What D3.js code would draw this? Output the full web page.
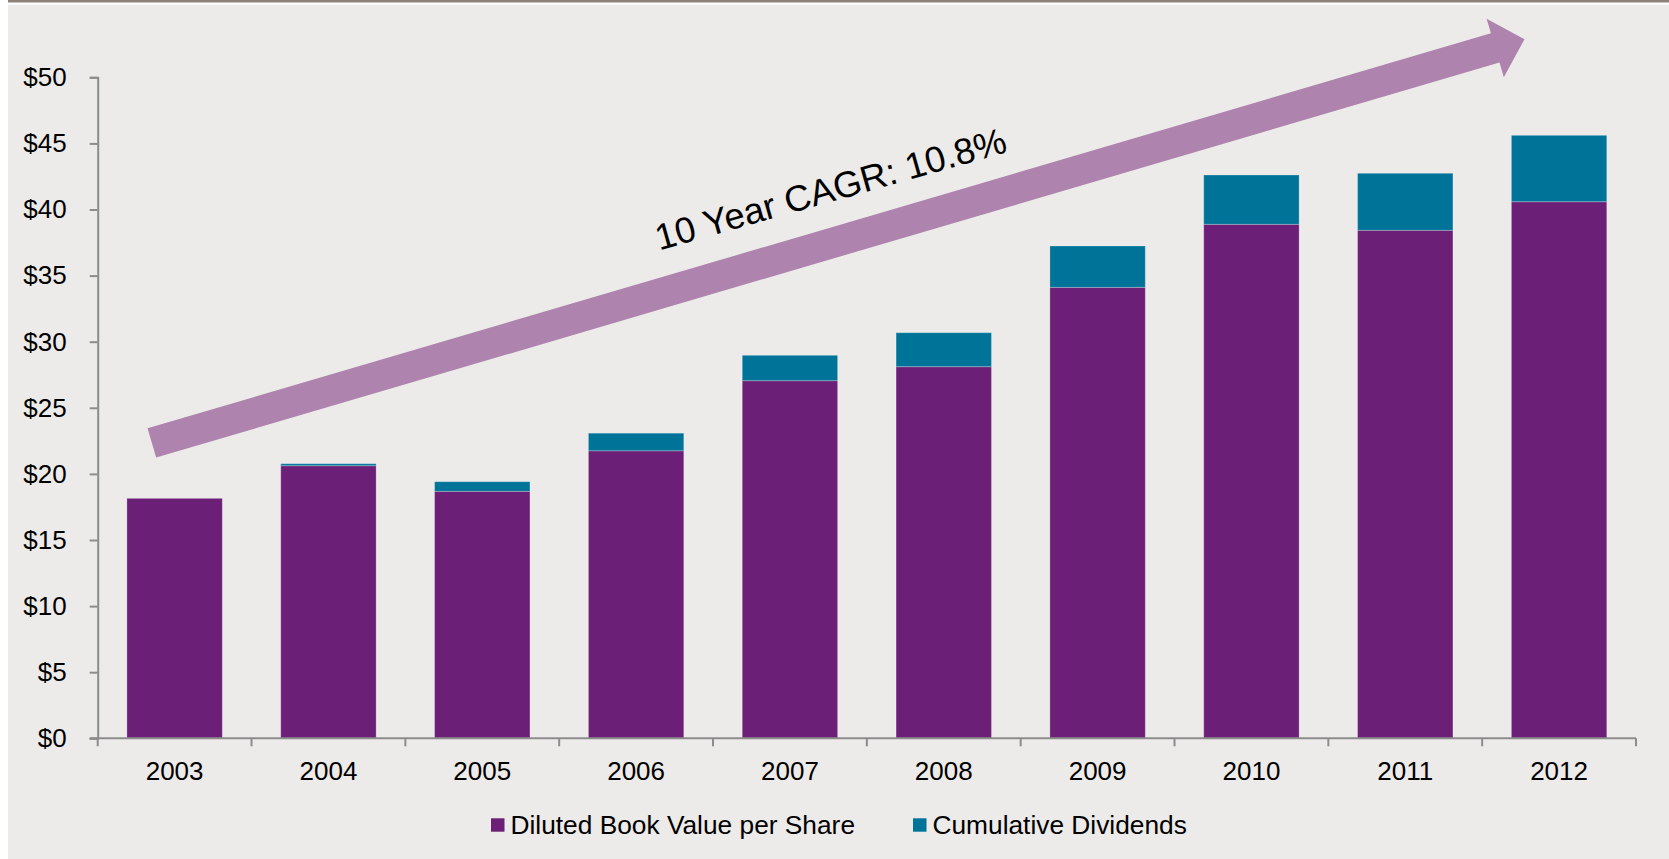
<!DOCTYPE html>
<html>
<head>
<meta charset="utf-8">
<script src="https://cdn.jsdelivr.net/npm/d3@7"></script>
<style>
  html, body { margin: 0; padding: 0; background: #ffffff; }
  svg { display: block; }
  text { font-family: "Liberation Sans", Arial, sans-serif; fill: #000; }
</style>
</head>
<body>
<svg id="chart" width="1669" height="859"></svg>
<script>
// ---- data ----
const years = ["2003","2004","2005","2006","2007","2008","2009","2010","2011","2012"];
const bookValue = [18.15, 20.62, 18.68, 21.75, 27.05, 28.11, 34.11, 38.88, 38.43, 40.59];
const cumulativeDividends = [0.00, 0.15, 0.73, 1.33, 1.92, 2.57, 3.13, 3.73, 4.31, 5.02];
const seriesNames = ["Diluted Book Value per Share", "Cumulative Dividends"];
const yTicks = [0, 5, 10, 15, 20, 25, 30, 35, 40, 45, 50];
const annotation = "10 Year CAGR: 10.8%";

// ---- layout ----
const W = 1669, H = 859;
const plot = { left: 97.7, right: 1636, top: 77.3, bottom: 738.3 };
const colors = ["#6b1f76", "#007398"];
const arrowColor = "#ae83ae";
const axisColor = "#8c8c8c";

const svg = d3.select("#chart");

// background panel
svg.append("rect").attr("x", 8).attr("y", 0).attr("width", W - 8).attr("height", 2.5).attr("fill", "#8c8279");
svg.append("rect").attr("x", 8).attr("y", 4.7).attr("width", W - 8).attr("height", H - 4.7).attr("fill", "#ecebe9");

const x = d3.scaleBand().domain(years).range([plot.left, plot.right]).paddingInner(0.38).paddingOuter(0.19);
const xOuter = d3.scaleLinear().domain([0, years.length]).range([plot.left, plot.right]);
const y = d3.scaleLinear().domain([0, 50]).range([plot.bottom, plot.top]);

// stacked data
const rows = years.map((yr, i) => ({ year: yr, book: bookValue[i], div: cumulativeDividends[i] }));
const stack = d3.stack().keys(["book", "div"]);
const layers = stack(rows);

const g = svg.append("g");
layers.forEach((layer, li) => {
  g.append("g").selectAll("rect").data(layer).join("rect")
    .attr("x", d => x(d.data.year))
    .attr("width", x.bandwidth())
    .attr("y", d => y(d[1]))
    .attr("height", d => Math.max(0, y(d[0]) - y(d[1])))
    .attr("fill", colors[li])
    .attr("stroke", "rgba(255,255,255,0.25)")
    .attr("stroke-width", 1);
});

// y axis
const yAxis = d3.axisLeft(y).tickValues(yTicks).tickFormat(d => "$" + d).tickSize(8).tickPadding(23);
const yg = svg.append("g").attr("transform", `translate(${plot.left},0)`).call(yAxis);
yg.select(".domain").attr("stroke", axisColor).attr("stroke-width", 2);
yg.selectAll(".tick line").attr("stroke", axisColor).attr("stroke-width", 2);
yg.selectAll(".tick text").attr("font-size", 26).attr("font-family", "Liberation Sans, Arial, sans-serif").attr("fill", "#000");

// x axis line with boundary ticks
const xg = svg.append("g");
xg.append("line").attr("x1", plot.left - 8).attr("x2", plot.right).attr("y1", y(0)).attr("y2", y(0))
  .attr("stroke", axisColor).attr("stroke-width", 2);
xg.selectAll("line.tk").data(d3.range(years.length + 1)).join("line").attr("class", "tk")
  .attr("x1", d => xOuter(d)).attr("x2", d => xOuter(d))
  .attr("y1", y(0)).attr("y2", y(0) + 8)
  .attr("stroke", axisColor).attr("stroke-width", 2);
xg.selectAll("text").data(years).join("text")
  .attr("x", d => x(d) + x.bandwidth() / 2)
  .attr("y", 780)
  .attr("text-anchor", "middle")
  .attr("font-size", 26)
  .text(d => d);

// arrow annotation (data space anchors)
const tail = [xOuter(0.352), y(22.34)];
const tip = [xOuter(9.275), y(52.87)];
const shaftHalf = 15.25, headLen = 30.5, headHalf = 30.5;
const dx = tip[0] - tail[0], dy = tip[1] - tail[1];
const len = Math.hypot(dx, dy);
const u = [dx / len, dy / len];
const n = [-u[1], u[0]];
const base = [tip[0] - u[0] * headLen, tip[1] - u[1] * headLen];
const P = (p, k, v) => [p[0] + v[0] * k, p[1] + v[1] * k];
const pts = [
  P(tail, -shaftHalf, n), P(base, -shaftHalf, n), P(base, -headHalf, n), tip,
  P(base, headHalf, n), P(base, shaftHalf, n), P(tail, shaftHalf, n)
];
svg.append("polygon").attr("points", pts.map(p => p.join(",")).join(" ")).attr("fill", arrowColor);

const angle = Math.atan2(dy, dx) * 180 / Math.PI + 0.6;
svg.append("text")
  .attr("transform", `translate(834,201) rotate(${angle})`)
  .attr("text-anchor", "middle")
  .attr("font-size", 36.5)
  .text(annotation);

// legend
const legend = [
  { sx: 491, tx: 510.5 },
  { sx: 913, tx: 932.5 }
];
legend.forEach((L, i) => {
  svg.append("rect").attr("x", L.sx).attr("y", 818.3).attr("width", 13.5).attr("height", 13.4).attr("fill", colors[i]);
  svg.append("text").attr("x", L.tx).attr("y", 833.5).attr("font-size", 26.3)
    .text(seriesNames[i]);
});
</script>
</body>
</html>
